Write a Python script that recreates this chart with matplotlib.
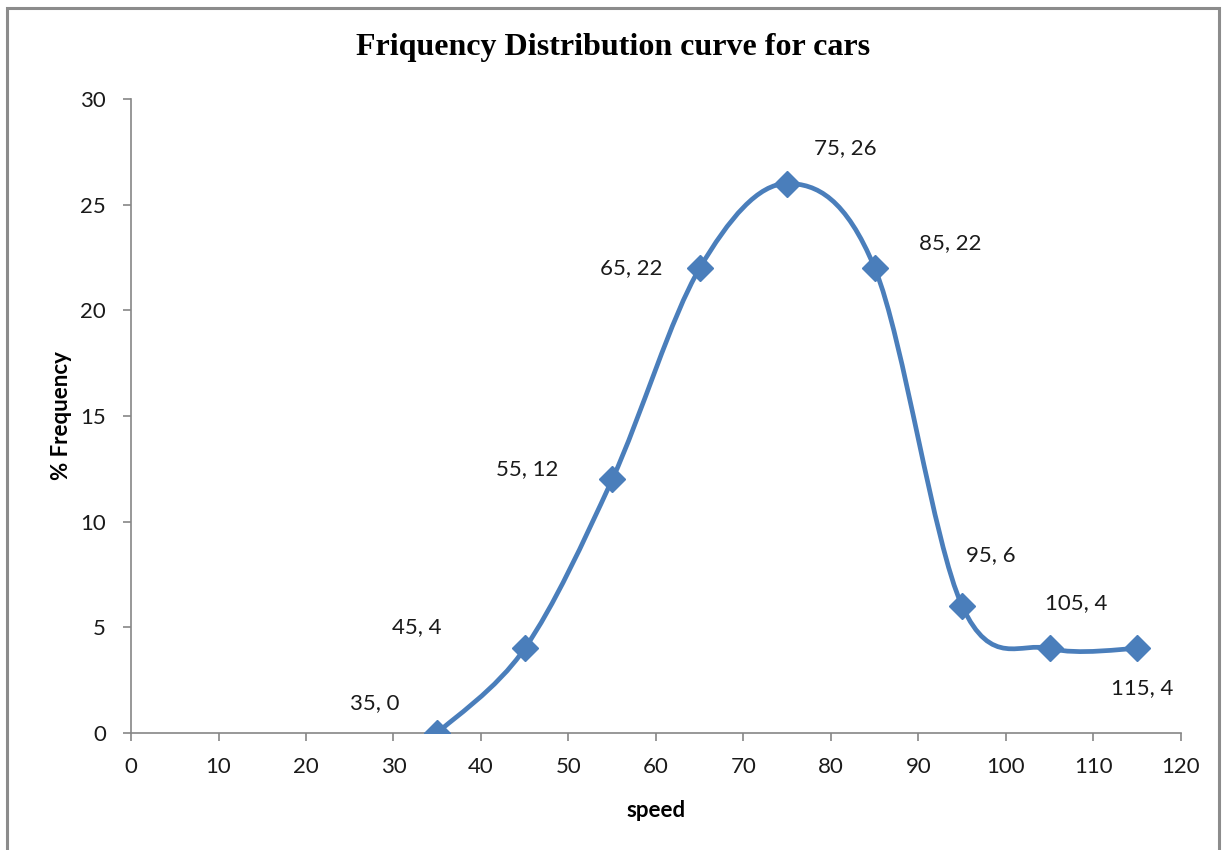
import numpy as np
import matplotlib
matplotlib.use("Agg")
import matplotlib.pyplot as plt
from matplotlib.path import Path
from matplotlib.patches import PathPatch, Rectangle

speed = [35, 45, 55, 65, 75, 85, 95, 105, 115]
freq = [0, 4, 12, 22, 26, 22, 6, 4, 4]
labels = ["35, 0", "45, 4", "55, 12", "65, 22", "75, 26", "85, 22", "95, 6", "105, 4", "115, 4"]
# label offsets in pixels (dx, dy)
label_offsets = [(-62, 30), (-108, 21), (-85, 10), (-68, 0), (58, 35), (76, 25), (29, 51), (26, 45), (5, -40)]
xticks = list(range(0, 121, 10))
yticks = list(range(0, 31, 5))

color = "#4a7ebb"
gray = "#868686"
FONT = "Lato"

fig = plt.figure(figsize=(12.24, 8.5), dpi=100)
ax = fig.add_axes([131/1224, 1-733/850, (1181-131)/1224, (733-99)/850])

# Excel-style smoothed line: Catmull-Rom converted to cubic Bezier
x = np.array(speed, float)
y = np.array(freq, float)
n = len(x)
verts = [(x[0], y[0])]
codes = [Path.MOVETO]
for i in range(n - 1):
    p0 = np.array([x[max(i-1, 0)], y[max(i-1, 0)]])
    p1 = np.array([x[i], y[i]])
    p2 = np.array([x[i+1], y[i+1]])
    p3 = np.array([x[min(i+2, n-1)], y[min(i+2, n-1)]])
    c1 = p1 + (p2 - p0) / 6.0
    c2 = p2 - (p3 - p1) / 6.0
    verts += [tuple(c1), tuple(c2), tuple(p2)]
    codes += [Path.CURVE4] * 3
path = Path(verts, codes)
ax.add_patch(PathPatch(path, facecolor="none", edgecolor=color, lw=3.4, capstyle="round", zorder=2))
ax.plot(speed, freq, linestyle="none", marker="D", ms=13, color=color, zorder=3)

for xi, yi, lab, (dx, dy) in zip(speed, freq, labels, label_offsets):
    ax.annotate(lab, (xi, yi), xytext=(dx, dy), textcoords="offset pixels",
                ha="center", va="center", fontsize=16, family=FONT, color="#1a1a1a")

ax.set_xlim(0, 120)
ax.set_ylim(0, 30)
ax.set_xticks(xticks)
ax.set_yticks(yticks)
for s in ["top", "right"]:
    ax.spines[s].set_visible(False)
for s in ["left", "bottom"]:
    ax.spines[s].set_color(gray)
    ax.spines[s].set_linewidth(1.2)
ax.tick_params(direction="out", length=6, width=1.2, color=gray, labelsize=16)
ax.tick_params(axis="x", pad=11)
ax.tick_params(axis="y", pad=12)
for t in ax.get_xticklabels() + ax.get_yticklabels():
    t.set_family(FONT)
    t.set_color("#1a1a1a")

ax.set_xlabel("speed", fontsize=16, fontweight="bold", family=FONT, labelpad=17)
ax.set_ylabel("% Frequency", fontsize=16, fontweight="bold", family=FONT, labelpad=6)
fig.text(613/1224, 1-47/850, "Friquency Distribution curve for cars", ha="center", va="center",
         fontsize=23, fontweight="bold", family="Liberation Serif")

fig.patches.append(Rectangle((7/1224, -0.05), (1219-7)/1224, (1-8/850) + 0.05, transform=fig.transFigure,
                             fill=False, edgecolor="#8c8c8c", lw=2.2))

fig.savefig("out.png", dpi=100)
